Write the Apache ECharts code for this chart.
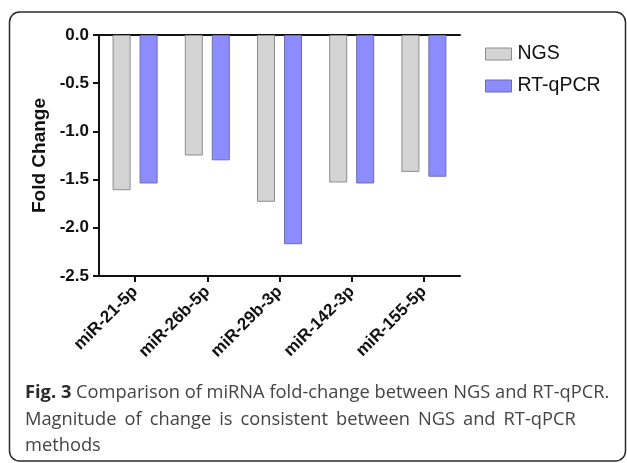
<!DOCTYPE html>
<html><head><meta charset="utf-8">
<script src="https://cdn.jsdelivr.net/npm/echarts@6/dist/echarts.min.js"></script>
<style>html,body{margin:0;padding:0;background:#fff}#c{width:627px;height:463px}</style>
</head><body><div id="c"></div>
<script>
const categories = ['miR-21-5p','miR-26b-5p','miR-29b-3p','miR-142-3p','miR-155-5p'];
const ngs = [-1.61, -1.25, -1.73, -1.53, -1.42];
const rtqpcr = [-1.54, -1.30, -2.17, -1.54, -1.47];
const yTicks = [0, -0.5, -1.0, -1.5, -2.0, -2.5];
const captionBold = 'Fig. 3';
const captionLine1 = 'Comparison of miRNA fold-change between NGS and RT-qPCR.';
const captionLine2Words = ['Magnitude','of','change','is','consistent','between','NGS','and','RT-qPCR'];
const captionLine3 = 'methods';

const chart = echarts.init(document.getElementById('c'), null, {renderer:'canvas'});
const axisColor = '#111';
const capFont = 'Open Sans';
const capSize = 18.3;
chart.setOption({
  animation:false,
  backgroundColor:'#fff',
  grid:{left:99, top:35, width:361, height:241, containLabel:false},
  legend:{
    orient:'vertical', left:485, top:44, padding:0, itemWidth:26, itemHeight:12, itemGap:12,
    icon:'rect',
    itemStyle:{borderWidth:1},
    textStyle:{fontFamily:'Liberation Sans, Arial', fontSize:19.5, lineHeight:16, color:'#111', padding:[0,0,0,1]},
    data:['NGS','RT-qPCR']
  },
  xAxis:[{
    type:'category', data:categories, position:'bottom',
    axisLine:{onZero:false, lineStyle:{color:axisColor, width:2}},
    axisTick:{show:true, alignWithLabel:true, length:6, lineStyle:{color:axisColor, width:2}},
    axisLabel:{rotate:45, interval:0, fontFamily:'Liberation Sans, Arial', fontWeight:'bold', fontSize:17, color:'#111', margin:13},
  },{
    type:'category', data:categories, position:'top',
    axisLine:{show:true, onZero:false, lineStyle:{color:axisColor, width:2}},
    axisTick:{show:false}, axisLabel:{show:false}
  }],
  yAxis:{
    type:'value', min:-2.5, max:0, interval:0.5,
    name:'Fold Change', nameLocation:'middle', nameGap:44,
    nameTextStyle:{fontFamily:'Liberation Sans, Arial', fontWeight:'bold', fontSize:19, color:'#111'},
    axisLine:{show:true, lineStyle:{color:axisColor, width:2}},
    axisTick:{show:true, length:6, lineStyle:{color:axisColor, width:2}},
    splitLine:{show:false},
    axisLabel:{fontFamily:'Liberation Sans, Arial', fontWeight:'bold', fontSize:17, color:'#111', margin:10,
      customValues:yTicks, formatter:v=>v.toFixed(1)}
  },
  series:[
    {name:'NGS', type:'bar', data:ngs, barWidth:18, barGap:'50%',
     itemStyle:{color:'#d4d4d4', borderColor:'#8c8c8c', borderWidth:1}},
    {name:'RT-qPCR', type:'bar', data:rtqpcr, barWidth:18,
     itemStyle:{color:'#8c8cff', borderColor:'#6b6bb0', borderWidth:1}}
  ],
  graphic:[
    {type:'rect', shape:{x:9.5, y:12, width:616, height:449, r:10}, style:{fill:'none', stroke:'#2a2a2a', lineWidth:1.5}, z:-1},
    {type:'text', x:25, y:393, style:{text:'{b|'+captionBold+'} '+captionLine1, verticalAlign:'middle',
      rich:{b:{fontFamily:capFont, fontWeight:'bold', fontSize:capSize, fill:'#2a2a2a'}},
      fontFamily:capFont, fontSize:capSize, fill:'#444'}},
    {type:'text', x:25, y:419.5, style:{text:captionLine2Words.join('{g| }'), verticalAlign:'middle',
      rich:{g:{width:8, fontFamily:capFont, fontSize:capSize}},
      fontFamily:capFont, fontSize:capSize, fill:'#444'}},
    {type:'text', x:25, y:446, style:{text:captionLine3, verticalAlign:'middle', fontFamily:capFont, fontSize:capSize, fill:'#444'}}
  ]
});
</script></body></html>
